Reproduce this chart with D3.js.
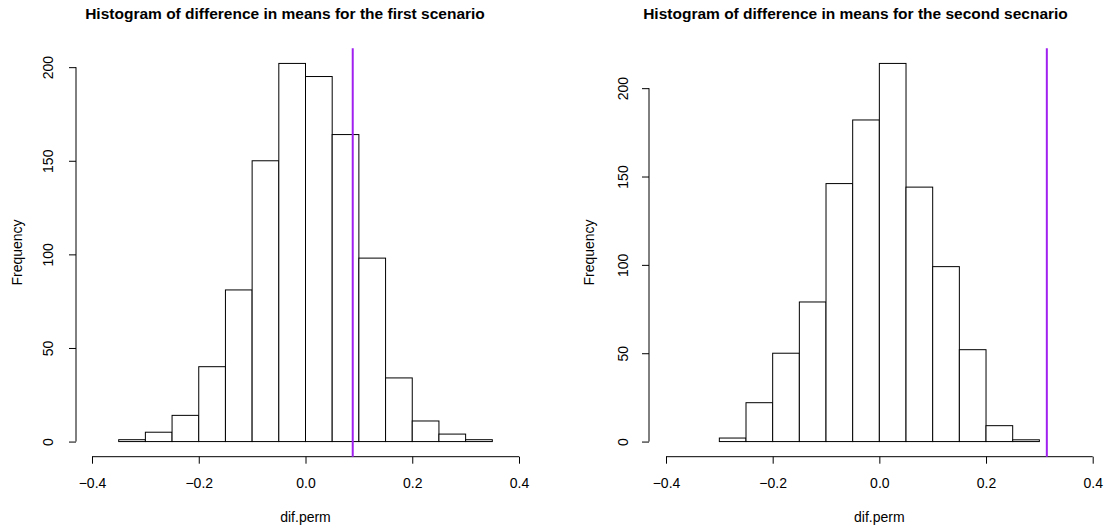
<!DOCTYPE html>
<html lang="en">
<head>
<meta charset="UTF-8" />
<title>Histograms of difference in means</title>
<style>
  body { margin: 0; background: #fff; }
  svg text { font-family: "Liberation Sans", Arial, Helvetica, sans-serif; fill: #000; }
  .bar { fill: #fff; stroke: #000; stroke-width: 1; }
</style>
</head>
<body>
<script src="https://cdn.jsdelivr.net/npm/d3@7/dist/d3.min.js"></script>
<script>
// bin edges and counts
var breaks1 = [-0.35, -0.30, -0.25, -0.20, -0.15, -0.10, -0.05, 0.00, 0.05, 0.10, 0.15, 0.20, 0.25, 0.30, 0.35];
var counts1 = [1, 5, 14, 40, 81, 150, 202, 195, 164, 98, 34, 11, 4, 1];
var observed1 = 0.0885;

var breaks2 = [-0.30, -0.25, -0.20, -0.15, -0.10, -0.05, 0.00, 0.05, 0.10, 0.15, 0.20, 0.25, 0.30];
var counts2 = [2, 22, 50, 79, 146, 182, 214, 144, 99, 52, 9, 1];
var observed2 = 0.314;

var xTicks = [-0.4, -0.2, 0.0, 0.2, 0.4];
var yTicks = [0, 50, 100, 150, 200];

var titles = ["Histogram of difference in means for the first scenario",
              "Histogram of difference in means for the second secnario"];
var xLabel = "dif.perm";
var yLabel = "Frequency";

var w = 1112, h = 527;
var plotTop = 48.3, plotBottom = 456.7;

var svg = d3.select("body").append("svg")
  .attr("width", w)
  .attr("height", h);

function drawPanel(p) {
  var g = svg.append("g");

  // x scale: R puts -0.4..0.4 ticks at these pixel spots
  var xScale = d3.scaleLinear().domain([-0.4, 0.4]).range(p.xRange);

  // y scale: R pads the range by 4% each side
  var maxC = d3.max(p.counts);
  var yScale = d3.scaleLinear()
    .domain([-0.04 * maxC, 1.04 * maxC])
    .range([plotBottom, plotTop]);

  var bins = p.counts.map(function(c, i) {
    return { x0: p.breaks[i], x1: p.breaks[i + 1], n: c };
  });

  g.selectAll("rect.bar")
    .data(bins)
    .enter()
    .append("rect")
    .attr("class", "bar")
    .attr("x", function(d) { return xScale(d.x0); })
    .attr("y", function(d) { return yScale(d.n); })
    .attr("width", function(d) { return xScale(d.x1) - xScale(d.x0); })
    .attr("height", function(d) { return yScale(0) - yScale(d.n); });

  // x axis, R style
  var xAxis = d3.axisBottom(xScale)
    .tickValues(xTicks)
    .tickSize(7)
    .tickPadding(14)
    .tickFormat(d3.format(".1f"));
  var gx = g.append("g")
    .attr("transform", "translate(0," + plotBottom + ")")
    .call(xAxis);
  gx.select(".domain").attr("d", "M" + xScale(-0.4) + ",0H" + xScale(0.4));
  gx.selectAll("text").style("font-size", "14px");
  gx.attr("font-family", null);

  // y axis
  var yAxis = d3.axisLeft(yScale)
    .tickValues(yTicks)
    .tickSize(7)
    .tickFormat(d3.format("d"));
  var gy = g.append("g")
    .attr("transform", "translate(" + p.yAxisX + ",0)")
    .call(yAxis);
  gy.attr("font-family", null);
  gy.select(".domain").attr("d", "M0," + yScale(0) + "V" + yScale(200));
  gy.selectAll(".tick text")
    .attr("x", null).attr("dy", null)
    .attr("transform", "translate(" + (p.yLabX - p.yAxisX) + ",0) rotate(-90)")
    .attr("text-anchor", "middle")
    .attr("dominant-baseline", "central")
    .style("font-size", "14px");
  svg.selectAll(".domain, .tick line").attr("stroke", "#000");

  // observed difference
  g.append("line")
    .attr("x1", xScale(p.observed))
    .attr("x2", xScale(p.observed))
    .attr("y1", plotTop)
    .attr("y2", plotBottom)
    .attr("stroke", "#A020F0")
    .attr("stroke-width", 2);

  // title and axis labels
  g.append("text")
    .attr("x", p.titleX)
    .attr("y", 19)
    .attr("text-anchor", "middle")
    .style("font-size", "15.5px")
    .style("font-weight", "bold")
    .text(p.title);

  g.append("text")
    .attr("x", xScale(0))
    .attr("y", 521.5)
    .attr("text-anchor", "middle")
    .style("font-size", "14px")
    .text(xLabel);

  g.append("text")
    .attr("transform", "translate(" + p.freqX + "," + ((plotTop + plotBottom) / 2) + ") rotate(-90)")
    .attr("text-anchor", "middle")
    .attr("dominant-baseline", "central")
    .style("font-size", "14px")
    .text(yLabel);
}

drawPanel({ breaks: breaks1, counts: counts1, observed: observed1, title: titles[0],
            xRange: [92, 519], yAxisX: 76, yLabX: 48, freqX: 16.5, titleX: 285 });
drawPanel({ breaks: breaks2, counts: counts2, observed: observed2, title: titles[1],
            xRange: [666, 1092.7], yAxisX: 649, yLabX: 623, freqX: 589, titleX: 855.5 });
</script>
</body>
</html>
